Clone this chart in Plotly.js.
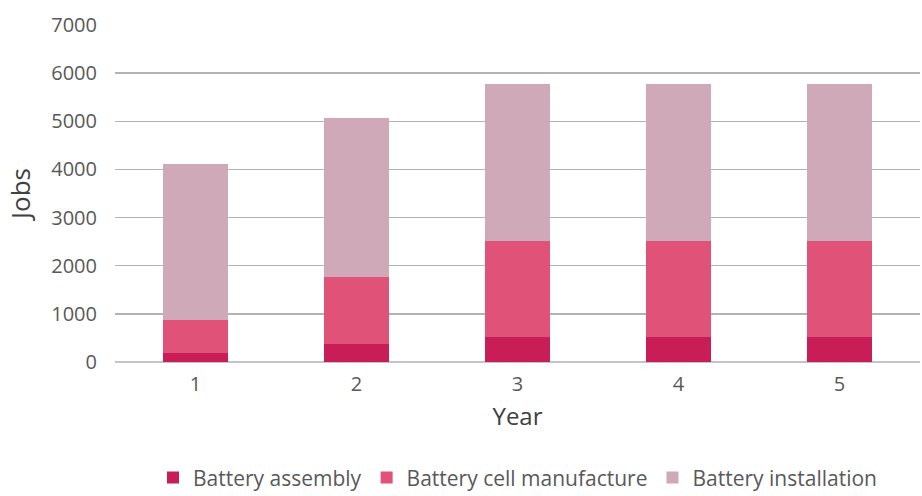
<!DOCTYPE html>
<html><head><meta charset="utf-8">
<script src="https://cdn.plot.ly/plotly-3.0.1.min.js"></script>
<style>body{margin:0;background:#fff}#c{width:922px;height:496px}</style>
</head><body><div id="c"></div>
<script>
var years = ['1', '2', '3', '4', '5'];
var assembly = [190, 375, 520, 520, 520];
var cellManufacture = [680, 1400, 2000, 2000, 2000];
var installation = [3250, 3285, 3250, 3250, 3250];
var seriesNames = ['Battery assembly', 'Battery cell manufacture', 'Battery installation'];
var colors = ['#C91D57', '#E05278', '#CFA9B7'];
var yTicks = [0, 1000, 2000, 3000, 4000, 5000, 6000, 7000];

var series = [assembly, cellManufacture, installation];
var data = series.map(function (vals, i) {
  return {type: 'bar', x: years, y: vals, name: seriesNames[i],
    marker: {color: colors[i], line: {width: 0}}};
});
var font = '"Open Sans", sans-serif';
var layout = {
  width: 922, height: 496,
  margin: {l: 115, r: 2, t: 25, b: 134},
  barmode: 'stack', bargap: 0.6,
  paper_bgcolor: '#fff', plot_bgcolor: '#fff',
  font: {family: font, color: '#595959', size: 20},
  xaxis: {type: 'category', automargin: false, title: {text: 'Year', font: {size: 24, color: '#404040'}, standoff: 12},
    showgrid: false, zeroline: false, showline: false, ticks: '', ticklabelstandoff: 8, tickfont: {size: 20, color: '#595959'}},
  yaxis: {range: [0, 7000], automargin: false, tickvals: yTicks, title: {text: 'Jobs', font: {size: 26, color: '#404040'}, standoff: 13},
    showgrid: true, gridcolor: '#B3B3B3', gridwidth: 1.5, zeroline: true, zerolinecolor: '#C4C4C4', zerolinewidth: 2,
    ticks: '', ticklabelstandoff: 17, tickfont: {size: 20, color: '#595959'}},
  legend: {orientation: 'h', x: 0.5, xanchor: 'center', yref: 'container', y: 0.078, yanchor: 'top',
    font: {size: 21, color: '#595959'}, itemwidth: 30, traceorder: 'normal'},
  showlegend: true
};
Plotly.newPlot('c', data, layout, {displayModeBar: false, staticPlot: true});
</script></body></html>
